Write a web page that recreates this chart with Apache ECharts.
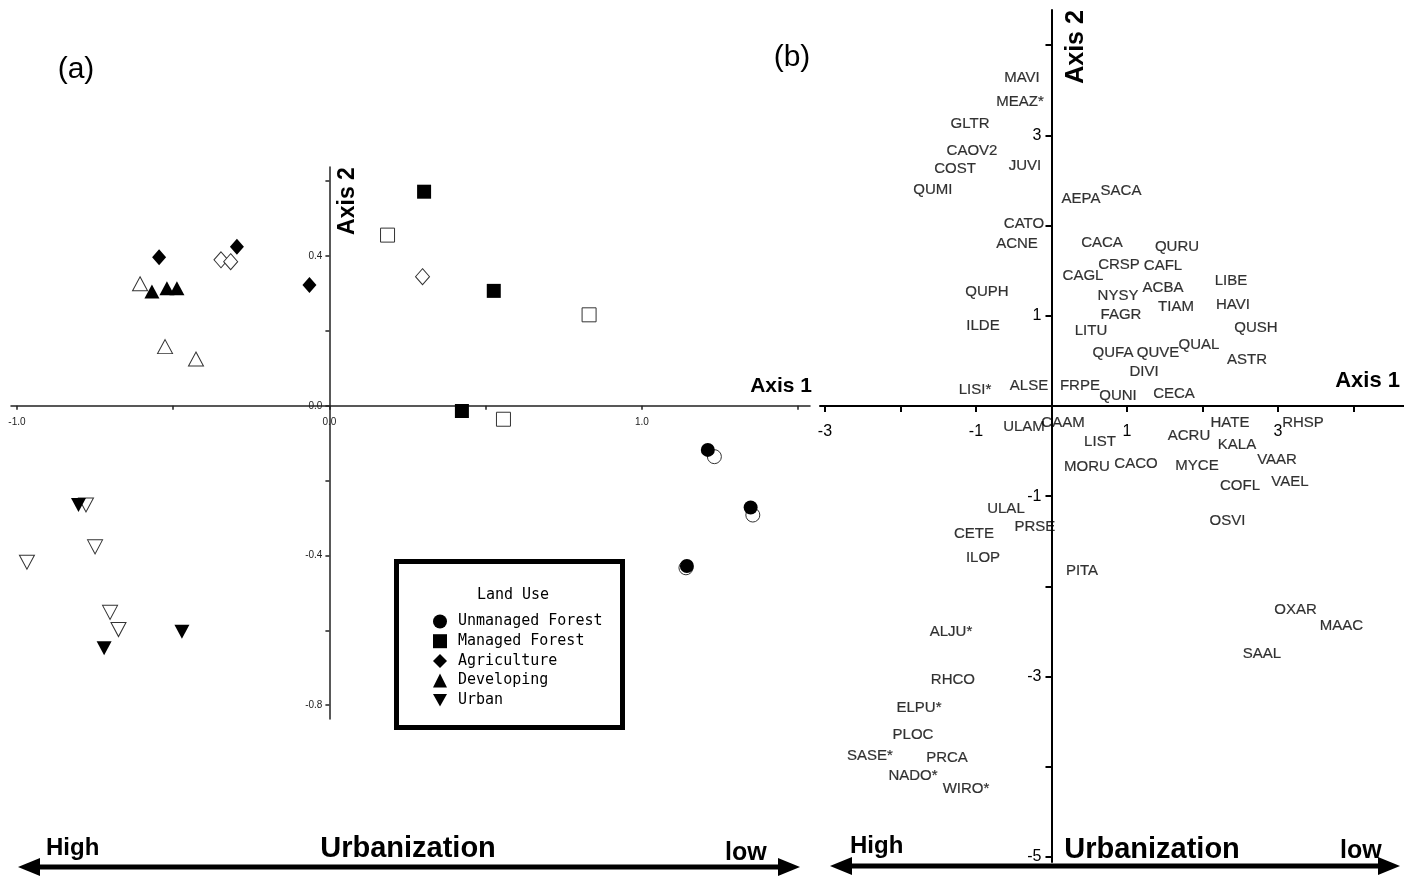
<!DOCTYPE html>
<html><head><meta charset="utf-8">
<script src="https://cdn.jsdelivr.net/npm/echarts@6/dist/echarts.min.js"></script>
<style>html,body{margin:0;padding:0;background:#fff}#c{width:1404px;height:876px}</style>
</head><body><div id="c"></div>
<script>
// ---------- Panel (a): site ordination scores ----------
const unmanagedFilled   = [[1.211,-0.118],[1.348,-0.272],[1.144,-0.428]];
const unmanagedOpen     = [[1.232,-0.136],[1.355,-0.292],[1.141,-0.433]];
const managedFilled     = [[0.303,0.572],[0.526,0.307],[0.424,-0.014]];
const managedOpen       = [[0.186,0.456],[0.831,0.243],[0.557,-0.036]];
const agricultureFilled = [[-0.545,0.397],[-0.296,0.425],[-0.064,0.323]];
const agricultureOpen   = [[-0.347,0.390],[-0.316,0.385],[0.298,0.345]];
const developingFilled  = [[-0.568,0.305],[-0.520,0.314],[-0.488,0.314]];
const developingOpen    = [[-0.606,0.326],[-0.526,0.158],[-0.427,0.125]];
const urbanFilled       = [[-0.803,-0.265],[-0.721,-0.648],[-0.472,-0.604]];
const urbanOpen         = [[-0.779,-0.265],[-0.750,-0.377],[-0.968,-0.418],[-0.702,-0.552],[-0.675,-0.598]];
const landUseNames = ['Unmanaged Forest','Managed Forest','Agriculture','Developing','Urban'];
const aTicksX  = [-1.0,-0.5,0.0,0.5,1.0,1.5];
const aLabelsX = [-1.0,0.0,1.0];
const aTicksY  = [-0.8,-0.6,-0.4,-0.2,0.0,0.2,0.4,0.6];
const aLabelsY = [-0.8,-0.4,0.0,0.4];

// ---------- Panel (b): species ordination scores ----------
const speciesNames = ['MAVI','MEAZ*','GLTR','CAOV2','COST','JUVI','QUMI','CATO','ACNE','AEPA','SACA','CACA','QURU','CRSP','CAFL','CAGL','LIBE','ACBA','NYSY','QUPH','TIAM','HAVI','FAGR','ILDE','LITU','QUSH','QUAL','QUFA','QUVE','ASTR','DIVI','LISI*','ALSE','FRPE','QUNI','CECA','ULAM','CAAM','LIST','ACRU','HATE','RHSP','KALA','MORU','CACO','MYCE','VAAR','VAEL','COFL','ULAL','OSVI','PRSE','CETE','ILOP','PITA','OXAR','MAAC','SAAL','ALJU*','RHCO','ELPU*','PLOC','SASE*','PRCA','NADO*','WIRO*'];
const speciesX = [-0.391,-0.417,-1.079,-1.053,-1.278,-0.351,-1.570,-0.364,-0.457,0.391,0.921,0.669,1.662,0.894,1.477,0.417,2.377,1.477,0.881,-0.854,1.649,2.404,0.921,-0.907,0.523,2.709,1.954,0.815,1.411,2.589,1.225,-1.013,-0.298,0.377,0.881,1.623,-0.364,0.152,0.642,1.821,2.364,3.331,2.457,0.470,1.119,1.927,2.987,3.159,2.497,-0.603,2.331,-0.219,-1.026,-0.907,0.404,3.232,3.841,2.788,-1.331,-1.305,-1.755,-1.834,-2.404,-1.384,-1.834,-1.132];
const speciesY = [3.636,3.370,3.126,2.827,2.627,2.661,2.395,2.018,1.796,2.295,2.384,1.807,1.763,1.563,1.552,1.441,1.386,1.308,1.220,1.264,1.098,1.120,1.009,0.887,0.831,0.865,0.676,0.588,0.588,0.510,0.377,0.177,0.222,0.222,0.111,0.133,-0.233,-0.188,-0.399,-0.333,-0.188,-0.188,-0.432,-0.676,-0.643,-0.665,-0.599,-0.843,-0.887,-1.142,-1.275,-1.341,-1.419,-1.685,-1.829,-2.262,-2.439,-2.749,-2.506,-3.038,-3.348,-3.647,-3.880,-3.902,-4.102,-4.246];
const bTicksX  = [-3,-2,-1,0,1,2,3,4];
const bLabelsX = [-3,-1,1,3];
const bTicksY  = [-5,-4,-3,-2,-1,0,1,2,3,4];
const bLabelsY = [-5,-3,-1,1,3];

// axis extents
const aX = {min:-1.019, max:1.538}, aY = {min:-0.837, max:0.638};
const bX = {min:-3.066, max:4.669}, bY = {min:-5.055, max:4.39};
const gA = {left:11, top:167, width:799, height:552, outerBoundsMode:'none'};
const gB = {left:820, top:10, width:584, height:852, outerBoundsMode:'none'};
// axes cross at zero: shift each axis from the grid edge to the zero of the other axis
const zeroShift = (len, r) => -len * (0 - r.min) / (r.max - r.min);

const downTri = 'path://M0,0L10,0L5,9Z';
const symbols = ['circle','rect','diamond','triangle',downTri];
const filledSets = [unmanagedFilled,managedFilled,agricultureFilled,developingFilled,urbanFilled];
const openSets = [unmanagedOpen,managedOpen,agricultureOpen,developingOpen,urbanOpen];
const sizes = [14,14,[14,16],[15,14],[15,14]];

const series = [];
openSets.forEach((d,i)=>series.push({
  name: landUseNames[i]+' (open)', type:'scatter', xAxisIndex:0, yAxisIndex:0,
  symbol: symbols[i], symbolSize: sizes[i], data: d,
  itemStyle:{color:'#fff', borderColor:'#333', borderWidth:1, opacity:1}, z:3
}));
filledSets.forEach((d,i)=>series.push({
  name: landUseNames[i], type:'scatter', xAxisIndex:0, yAxisIndex:0,
  symbol: symbols[i], symbolSize: sizes[i], data: d,
  itemStyle:{color:'#000', opacity:1}, z:4
}));
series.push({
  name:'Species', type:'scatter', xAxisIndex:1, yAxisIndex:1, symbolSize:1,
  itemStyle:{color:'transparent'},
  data: speciesNames.map((n,i)=>({name:n, value:[speciesX[i], speciesY[i]]})),
  label:{show:true, position:'inside', formatter:'{b}', color:'#000',
    fontFamily:'Liberation Sans', fontSize:15, textBorderColor:'#000', textBorderWidth:0.2}
});

const aLine = {color:'#222', width:1.5};
const bLine = {color:'#000', width:2};
const fmtA = v => v.toFixed(1);

const option = {
  backgroundColor:'#fff',
  animation:false,
  grid:[gA, gB],
  xAxis:[
    {gridIndex:0, type:'value', min:aX.min, max:aX.max, position:'bottom', offset: zeroShift(gA.height, aY), splitLine:{show:false},
      axisLine:{onZero:false, lineStyle:aLine},
      axisTick:{show:true, length:4, customValues:aTicksX, lineStyle:aLine},
      axisLabel:{customValues:aLabelsX, formatter:fmtA, fontSize:10, color:'#222', margin:11, fontFamily:'Liberation Sans'}},
    {gridIndex:1, type:'value', min:bX.min, max:bX.max, position:'bottom', offset: zeroShift(gB.height, bY), splitLine:{show:false},
      axisLine:{onZero:false, lineStyle:bLine},
      axisTick:{show:true, length:6, customValues:bTicksX, lineStyle:bLine},
      axisLabel:{customValues:bLabelsX, fontSize:16, color:'#000', margin:18, fontFamily:'Liberation Sans'}}
  ],
  yAxis:[
    {gridIndex:0, type:'value', min:aY.min, max:aY.max, position:'left', offset: zeroShift(gA.width, aX), splitLine:{show:false},
      axisLine:{onZero:false, lineStyle:aLine},
      axisTick:{show:true, length:4, customValues:aTicksY, lineStyle:aLine},
      axisLabel:{customValues:aLabelsY, formatter:fmtA, fontSize:10, color:'#222', margin:7, fontFamily:'Liberation Sans'}},
    {gridIndex:1, type:'value', min:bY.min, max:bY.max, position:'left', offset: zeroShift(gB.width, bX), splitLine:{show:false},
      axisLine:{onZero:false, lineStyle:bLine},
      axisTick:{show:true, length:6, customValues:bTicksY, lineStyle:bLine},
      axisLabel:{customValues:bLabelsY, fontSize:16, color:'#000', margin:10, fontFamily:'Liberation Sans'}}
  ],
  legend:{
    data: landUseNames.map((n,i)=>({name:n, icon: symbols[i]})),
    orient:'vertical', left:428, top:609, itemWidth:14, itemHeight:14, itemGap:4.7,
    selectedMode:false,
    textStyle:{fontFamily:'DejaVu Sans Mono', fontSize:15, color:'#000', padding:[0,0,0,6]}
  },
  series: series,
  graphic:[
    {type:'rect', shape:{x:396.5, y:561.5, width:226, height:166}, style:{fill:'none', stroke:'#000', lineWidth:5}},
    {type:'text', x:513, y:595, style:{text:'Land Use', fontFamily:'DejaVu Sans Mono', fontSize:15, fill:'#000', align:'center', verticalAlign:'middle'}},
    {type:'text', x:76, y:70, style:{text:'(a)', fontFamily:'Liberation Sans', fontSize:30, fill:'#000', align:'center', verticalAlign:'middle'}},
    {type:'text', x:792, y:58, style:{text:'(b)', fontFamily:'Liberation Sans', fontSize:30, fill:'#000', align:'center', verticalAlign:'middle'}},
    {type:'text', x:812, y:386, style:{text:'Axis 1', fontFamily:'Liberation Sans', fontWeight:'bold', fontSize:21, fill:'#000', align:'right', verticalAlign:'middle'}},
    {type:'text', x:348, y:201, rotation:Math.PI/2, style:{text:'Axis 2', fontFamily:'Liberation Sans', fontWeight:'bold', fontSize:23, fill:'#000', align:'center', verticalAlign:'middle'}},
    {type:'text', x:1400, y:381, style:{text:'Axis 1', fontFamily:'Liberation Sans', fontWeight:'bold', fontSize:22, fill:'#000', align:'right', verticalAlign:'middle'}},
    {type:'text', x:1076, y:47, rotation:Math.PI/2, style:{text:'Axis 2', fontFamily:'Liberation Sans', fontWeight:'bold', fontSize:25, fill:'#000', align:'center', verticalAlign:'middle'}},
    // arrows
    {type:'line', shape:{x1:36, y1:867, x2:782, y2:867}, style:{stroke:'#000', lineWidth:5}},
    {type:'polygon', shape:{points:[[18,867],[40,858],[40,876]]}, style:{fill:'#000'}},
    {type:'polygon', shape:{points:[[800,867],[778,858],[778,876]]}, style:{fill:'#000'}},
    {type:'line', shape:{x1:848, y1:866, x2:1382, y2:866}, style:{stroke:'#000', lineWidth:5}},
    {type:'polygon', shape:{points:[[830,866],[852,857],[852,875]]}, style:{fill:'#000'}},
    {type:'polygon', shape:{points:[[1400,866],[1378,857],[1378,875]]}, style:{fill:'#000'}},
    {type:'text', x:46, y:848, style:{text:'High', fontFamily:'Liberation Sans', fontWeight:'bold', fontSize:24, fill:'#000', align:'left', verticalAlign:'middle'}},
    {type:'text', x:408, y:849, style:{text:'Urbanization', fontFamily:'Liberation Sans', fontWeight:'bold', fontSize:29, fill:'#000', align:'center', verticalAlign:'middle'}},
    {type:'text', x:725, y:853, style:{text:'low', fontFamily:'Liberation Sans', fontWeight:'bold', fontSize:25, fill:'#000', align:'left', verticalAlign:'middle'}},
    {type:'text', x:850, y:846, style:{text:'High', fontFamily:'Liberation Sans', fontWeight:'bold', fontSize:24, fill:'#000', align:'left', verticalAlign:'middle'}},
    {type:'text', x:1152, y:850, style:{text:'Urbanization', fontFamily:'Liberation Sans', fontWeight:'bold', fontSize:29, fill:'#000', align:'center', verticalAlign:'middle'}},
    {type:'text', x:1340, y:851, style:{text:'low', fontFamily:'Liberation Sans', fontWeight:'bold', fontSize:25, fill:'#000', align:'left', verticalAlign:'middle'}}
  ]
};
const chart = echarts.init(document.getElementById('c'), null, {renderer:'canvas'});
chart.setOption(option);
</script>
</body></html>
